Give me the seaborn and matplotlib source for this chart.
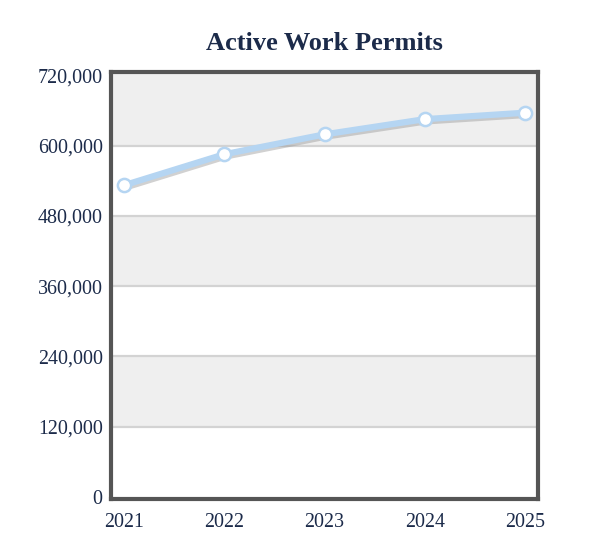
import pandas as pd
import matplotlib
matplotlib.use("Agg")
import matplotlib.pyplot as plt
import matplotlib.patheffects as pe
import seaborn as sns

# data
years = ["2021", "2022", "2023", "2024", "2025"]
permits = [532000, 585000, 619000, 645000, 656000]
y_ticks = [0, 120000, 240000, 360000, 480000, 600000, 720000]

df = pd.DataFrame({"year": years, "permits": permits})
df["pos"] = range(len(years))

sns.set_theme(style="white")
plt.rcParams["font.family"] = ["Liberation Serif", "DejaVu Serif"]

text_color = "#1c2b4a"
line_color = "#b5d5f2"

fig = plt.figure(figsize=(6.04, 5.57), dpi=100)
fig.patch.set_facecolor("white")
ax = fig.add_axes([111 / 604, 1 - 499 / 557, 427 / 604, 427 / 557])
ax.set_facecolor("white")

ylo, yhi = -3400, 725500
# alternating bands and grid lines
for i in range(len(y_ticks) - 1):
    if i % 2 == 1:
        top = y_ticks[i + 1] if i + 1 < len(y_ticks) - 1 else yhi
        ax.axhspan(y_ticks[i], top, color="#efefef", zorder=0, lw=0)
for t in y_ticks[1:-1]:
    ax.axhline(t, color="#d3d3d3", lw=1.6, zorder=1)

# line with soft shadow, markers drawn separately without it
sns.lineplot(data=df, x="pos", y="permits", ax=ax, color=line_color, lw=4.5, zorder=3,
             path_effects=[pe.SimpleLineShadow(offset=(1.0, -1.6), shadow_color="#999999", alpha=0.45),
                           pe.Normal()])
ax.plot(df["pos"], df["permits"], ls="none", marker="o", markersize=9.5,
        markerfacecolor="white", markeredgecolor=line_color, markeredgewidth=1.8, zorder=4)

ax.set_xlim(-0.127, 4.127)
ax.set_ylim(ylo, yhi)
ax.set_xticks(df["pos"])
ax.set_xticklabels(years)
ax.set_yticks(y_ticks)
ax.set_yticklabels([f"{v:,}" for v in y_ticks])
ax.tick_params(axis="both", length=0, labelsize=14.4, colors=text_color)
ax.tick_params(axis="y", pad=6)
ax.tick_params(axis="x", pad=10)
ax.set_xlabel("")
ax.set_ylabel("")

for s in ax.spines.values():
    s.set_visible(True)
    s.set_color("#555555")
    s.set_linewidth(3)
    s.set_zorder(5)

ax.set_title("Active Work Permits", fontsize=19, fontweight="bold", color=text_color, pad=16)

fig.savefig("out.png", dpi=100)
